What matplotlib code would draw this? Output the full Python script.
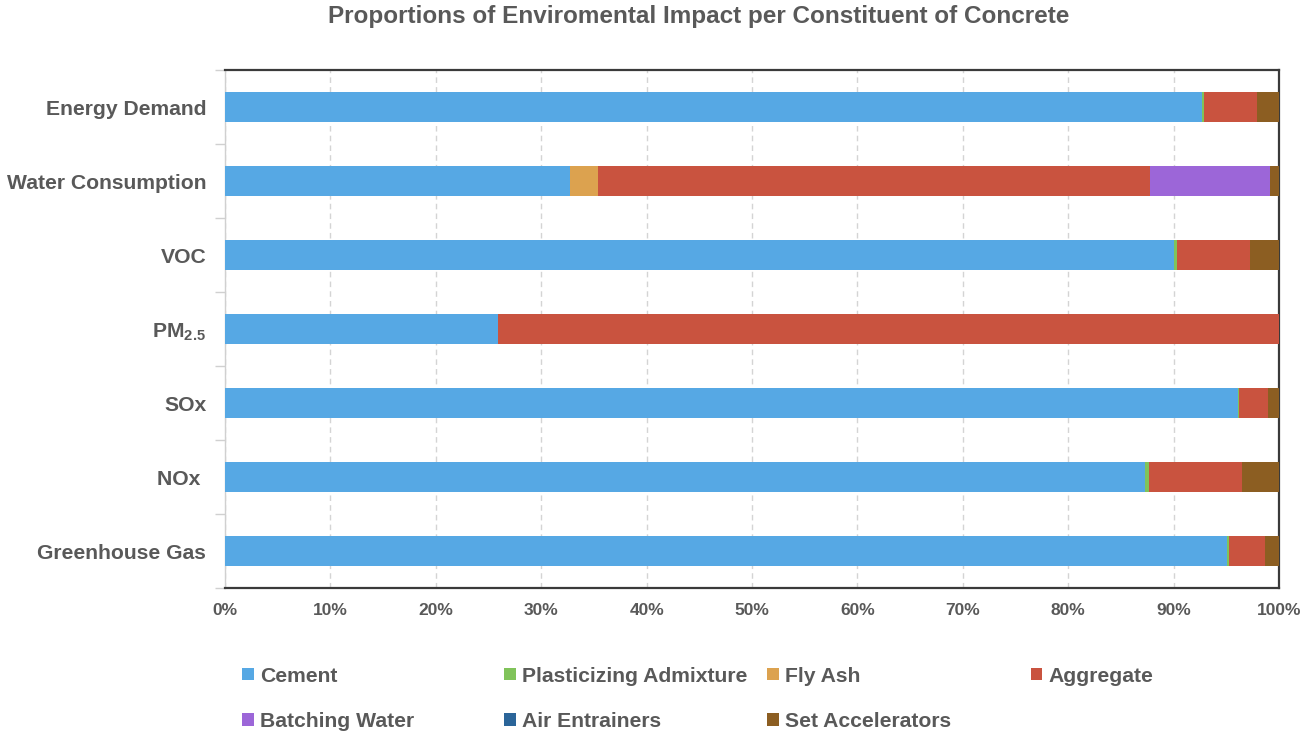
import matplotlib.pyplot as plt
import numpy as np
from matplotlib.patches import Patch
from matplotlib.ticker import FuncFormatter, MultipleLocator

plt.rcParams['font.family'] = ['Liberation Sans', 'DejaVu Sans']
plt.rcParams['mathtext.fontset'] = 'custom'
plt.rcParams['mathtext.rm'] = 'Liberation Sans'
plt.rcParams['mathtext.bf'] = 'Liberation Sans:bold'

# impact categories, top to bottom
categories = ['Energy Demand', 'Water Consumption', 'VOC', r'PM$_{\mathbf{2.5}}$',
              'SOx', 'NOx ', 'Greenhouse Gas']

# share of each impact (%) per constituent
cement = [92.7, 32.7, 90.0, 25.9, 96.1, 87.3, 95.1]
plasticizing = [0.2, 0.0, 0.3, 0.0, 0.1, 0.4, 0.15]
fly_ash = [0.0, 2.7, 0.0, 0.0, 0.0, 0.0, 0.0]
aggregate = [5.0, 52.4, 6.95, 74.1, 2.8, 8.8, 3.45]
batching_water = [0.0, 11.3, 0.0, 0.0, 0.0, 0.0, 0.0]
air_entrainers = [0.0, 0.0, 0.0, 0.0, 0.0, 0.0, 0.0]
set_accelerators = [2.1, 0.9, 2.75, 0.0, 1.0, 3.5, 1.3]

series = [
    ('Cement', cement, '#56a8e4'),
    ('Plasticizing Admixture', plasticizing, '#80c35a'),
    ('Fly Ash', fly_ash, '#dca24f'),
    ('Aggregate', aggregate, '#c9533f'),
    ('Batching Water', batching_water, '#9c66d8'),
    ('Air Entrainers', air_entrainers, '#2b6599'),
    ('Set Accelerators', set_accelerators, '#8c5e22'),
]

grey = '#595959'

fig = plt.figure(figsize=(13.03, 7.34), dpi=100)
ax = fig.add_axes([0.1727, 0.1989, 0.8089, 0.7057])

y = np.arange(len(categories))
left = np.zeros(len(categories))
handles = []
for name, vals, col in series:
    vals = np.array(vals, dtype=float)
    ax.barh(y, vals, left=left, height=0.4, color=col, zorder=3)
    left += vals
    handles.append(Patch(facecolor=col, label=name))

ax.set_xlim(0, 100)
ax.set_ylim(len(categories) - 0.5, -0.5)
ax.xaxis.set_major_locator(MultipleLocator(10))
ax.xaxis.set_major_formatter(FuncFormatter(lambda v, p: f'{v:.0f}%'))
ax.grid(axis='x', color='#d4d4d4', linestyle=(0, (4, 3)), linewidth=1, zorder=0)

ax.set_yticks(y)
ax.set_yticklabels(categories)
ax.set_yticks(np.arange(len(categories) + 1) - 0.5, minor=True)
ax.tick_params(axis='y', which='major', length=0, pad=13.5, labelsize=15.2, labelcolor=grey)
ax.tick_params(axis='y', which='minor', length=7, color='#d0d0d0', width=1)
ax.tick_params(axis='x', length=0, pad=11, labelsize=12.5, labelcolor=grey)
for lbl in ax.get_yticklabels() + ax.get_xticklabels():
    lbl.set_fontweight('bold')

for side in ['top', 'right', 'bottom']:
    ax.spines[side].set_color('#3a3a3a')
    ax.spines[side].set_linewidth(1.6)
ax.spines['left'].set_color('#d0d0d0')
ax.spines['left'].set_linewidth(1)

fig.suptitle('Proportions of Enviromental Impact per Constituent of Concrete',
             x=0.536, y=0.993, fontsize=17.5, fontweight='bold', color=grey)

# legend entries set out on two rows
legend_pos = [(0.186, 0.066), (0.387, 0.066), (0.589, 0.066), (0.791, 0.066),
              (0.186, 0.004), (0.387, 0.004), (0.589, 0.004)]
for h, (lx, ly) in zip(handles, legend_pos):
    lg = fig.legend(handles=[h], loc='lower left', bbox_to_anchor=(lx, ly),
                    frameon=False, handlelength=0.55, handleheight=0.55,
                    handletextpad=0.3, borderpad=0, borderaxespad=0,
                    prop={'size': 15.2, 'weight': 'bold'})
    for t in lg.get_texts():
        t.set_color(grey)

fig.savefig('out.png', dpi=100)
